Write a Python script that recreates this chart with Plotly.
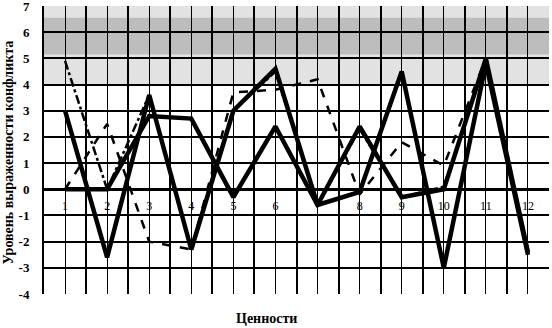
import plotly.graph_objects as go

categories = [1, 2, 3, 4, 5, 6, 7, 8, 9, 10, 11, 12]
tick_labels = ["1", "2", "3", "4", "5", "6", "", "8", "9", "10", "11", "12"]

series_a = [3.0, -2.6, 3.6, -2.3, 3.0, 4.6, -0.6, 2.4, -0.3, 0.0, 5.0, -2.4]
series_b = [0.0, 0.0, 2.8, 2.7, -0.3, 2.4, -0.6, -0.1, 4.5, -3.0, 4.8, -2.5]
series_c = [4.9, 0.0, 3.6, -2.3, 3.0, 4.5, -0.6, 2.3, -0.3, 0.1, 4.9, -2.5]
series_d = [0.0, 2.5, -2.0, -2.3, 3.7, 3.8, 4.2, -0.2, 1.8, 0.9, 5.0, -2.4]

y_ticks = [-4, -3, -2, -1, 0, 1, 2, 3, 4, 5, 6, 7]
y_tick_text = ["-4", "-3", "-2", "-1", "0", "1", "2", "3", "4", "5", "6", "7"]

fig = go.Figure()

serif = "Liberation Serif"

fig.add_trace(go.Scatter(x=categories, y=series_d, mode="lines",
                         line=dict(color="black", width=2.5, dash="dash"), showlegend=False))
fig.add_trace(go.Scatter(x=categories, y=series_c, mode="lines",
                         line=dict(color="black", width=2.5, dash="dashdot"), showlegend=False))
fig.add_trace(go.Scatter(x=categories, y=series_b, mode="lines",
                         line=dict(color="black", width=4.5), showlegend=False))
fig.add_trace(go.Scatter(x=categories, y=series_a, mode="lines",
                         line=dict(color="black", width=4.5), showlegend=False))

# shaded bands
fig.add_shape(type="rect", xref="paper", yref="y", x0=0, x1=1, y0=4, y1=7,
              fillcolor="#e2e2e2", line_width=0, layer="below")
fig.add_shape(type="rect", xref="paper", yref="y", x0=0, x1=1, y0=5.15, y1=6.55,
              fillcolor="#bdbdbd", line_width=0, layer="below")

fig.update_layout(
    width=552, height=328,
    margin=dict(l=44, r=3, t=6, b=34),
    paper_bgcolor="white", plot_bgcolor="white",
    font=dict(family=serif, color="black"),
    xaxis=dict(
        range=[0.5, 12.5], tickvals=categories, ticktext=tick_labels,
        showgrid=True, gridcolor="black", gridwidth=1.2,
        minor=dict(tickvals=[c + 0.5 for c in [0] + categories], showgrid=True,
                   gridcolor="black", gridwidth=2),
        anchor="free", position=4 / 11, showline=False, zeroline=False,
        ticks="", automargin=False, ticklabeloverflow="allow", ticklabelstandoff=8,
        tickfont=dict(size=12, family=serif, color="black"),
    ),
    yaxis=dict(
        range=[-4, 7], tickvals=y_ticks, ticktext=y_tick_text,
        showgrid=True, gridcolor="black", gridwidth=1.5,
        zeroline=True, zerolinecolor="black", zerolinewidth=2.5,
        showline=True, linecolor="black", linewidth=2,
        ticks="", ticklabelstandoff=10, automargin=False, ticklabeloverflow="allow",
        tickfont=dict(size=13, family=serif, color="black", weight="bold"),
    ),
    annotations=[
        dict(text="<b>Уровень выраженности конфликта</b>", xref="paper", yref="paper",
             x=-0.07, y=0.49, textangle=-90, showarrow=False,
             font=dict(size=14, family=serif, color="black"), xanchor="center", yanchor="middle"),
        dict(text="<b>Ценности</b>", xref="paper", yref="paper",
             x=0.44, y=-0.085, showarrow=False,
             font=dict(size=14, family=serif, color="black"), xanchor="center", yanchor="middle"),
    ],
)

fig.write_html("out.html", config={"displayModeBar": False},
               post_script="document.body.style.margin='0';")
